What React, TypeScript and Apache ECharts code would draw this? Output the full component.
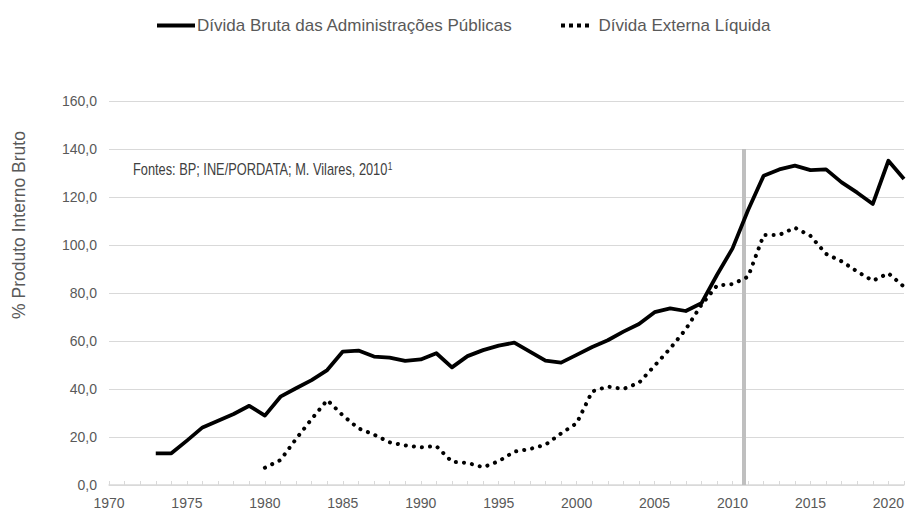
import React, { useEffect, useRef } from 'react';
import * as echarts from 'echarts';

const grossDebtName = 'Dívida Bruta das Administrações Públicas';
const extDebtName = 'Dívida Externa Líquida';

const grossDebtYears = [
  1973, 1974, 1975, 1976, 1977, 1978, 1979, 1980, 1981, 1982, 1983, 1984, 1985, 1986, 1987, 1988,
  1989, 1990, 1991, 1992, 1993, 1994, 1995, 1996, 1997, 1998, 1999, 2000, 2001, 2002, 2003, 2004,
  2005, 2006, 2007, 2008, 2009, 2010, 2011, 2012, 2013, 2014, 2015, 2016, 2017, 2018, 2019, 2020, 2021,
];
const grossDebt = [
  13.2, 13.2, 18.5, 24.0, 26.8, 29.6, 33.0, 28.9, 36.8, 40.3, 43.7, 47.9, 55.6, 56.0, 53.5, 53.1,
  51.7, 52.3, 54.9, 49.0, 53.7, 56.2, 58.1, 59.3, 55.6, 51.8, 51.0, 54.2, 57.5, 60.3, 63.9, 67.1,
  72.0, 73.6, 72.5, 75.7, 87.5, 98.6, 114.6, 128.9, 131.5, 133.1, 131.2, 131.5, 126.1, 121.8, 117.1, 135.1, 127.5,
];

const extDebtYears = [
  1980, 1981, 1982, 1983, 1984, 1985, 1986, 1987, 1988, 1989, 1990, 1991, 1992, 1993, 1994, 1995,
  1996, 1997, 1998, 1999, 2000, 2001, 2002, 2003, 2004, 2005, 2006, 2007, 2008, 2009, 2010, 2011,
  2012, 2013, 2014, 2015, 2016, 2017, 2018, 2019, 2020, 2021,
];
const extDebt = [
  7.2, 10.4, 19.2, 27.5, 35.4, 29.0, 23.6, 21.0, 17.8, 16.5, 15.7, 16.2, 9.7, 9.2, 7.4, 9.9,
  13.9, 15.0, 16.8, 21.5, 25.7, 39.0, 41.0, 40.0, 42.6, 49.7, 56.9, 64.9, 75.0, 83.1, 83.7, 86.8,
  104.2, 104.2, 107.2, 103.8, 96.3, 93.2, 88.9, 85.1, 88.2, 82.6,
];

const tickYears = [
  1970, 1971, 1972, 1973, 1974, 1975, 1976, 1977, 1978, 1979, 1980, 1981, 1982, 1983, 1984, 1985,
  1986, 1987, 1988, 1989, 1990, 1991, 1992, 1993, 1994, 1995, 1996, 1997, 1998, 1999, 2000, 2001,
  2002, 2003, 2004, 2005, 2006, 2007, 2008, 2009, 2010, 2011, 2012, 2013, 2014, 2015, 2016, 2017,
  2018, 2019, 2020, 2021,
];
const labelYears = [1970, 1975, 1980, 1985, 1990, 1995, 2000, 2005, 2010, 2015, 2020];

const markerYear = 2010.75;
const markerTop = 140;

const sourceText = 'Fontes: BP; INE/PORDATA; M. Vilares, 2010';
const sourceSup = '1';
const yAxisName = '% Produto Interno Bruto';

const FONT = "'Liberation Sans', Arial, sans-serif";

export default function App() {
  const ref = useRef<HTMLDivElement>(null);

  useEffect(() => {
    if (!ref.current) return;
    const chart = echarts.init(ref.current, null, { renderer: 'svg' });

    const grossData = grossDebtYears.map((y, i) => [y, grossDebt[i]]);
    const extData = extDebtYears.map((y, i) => [y, extDebt[i]]);

    chart.setOption({
      animation: false,
      grid: { left: 109, right: 3, top: 101, bottom: 26, containLabel: false },
      legend: [
        {
          data: [grossDebtName],
          left: 157,
          top: 17,
          padding: 0,
          icon: 'rect',
          itemWidth: 38,
          itemHeight: 4,
          textStyle: { fontFamily: FONT, fontSize: 17, color: '#595959', padding: [0, 0, 0, -3] },
        },
        {
          data: [extDebtName],
          left: 561,
          top: 17,
          padding: 0,
          icon: 'path://M0,0h4v4h-4z M8,0h4v4h-4z M16,0h4v4h-4z M24,0h4v4h-4z',
          itemWidth: 31,
          itemHeight: 4,
          textStyle: { fontFamily: FONT, fontSize: 17, color: '#595959', padding: [0, 0, 0, 3] },
        },
      ],
      xAxis: {
        type: 'value',
        min: 1970,
        max: 2021,
        interval: 5,
        axisLine: { show: true, lineStyle: { color: '#d9d9d9', width: 1.5 } },
        axisTick: {
          show: true,
          customValues: tickYears,
          inside: true,
          length: 4,
          lineStyle: { color: '#d9d9d9' },
        },
        axisLabel: {
          customValues: labelYears,
          fontFamily: FONT,
          fontSize: 14,
          color: '#595959',
          margin: 11,
          formatter: (v: number) => String(v),
        },
        splitLine: { show: false },
      },
      yAxis: {
        type: 'value',
        min: 0,
        max: 160,
        interval: 20,
        axisLine: { show: false },
        axisTick: { show: false },
        axisLabel: {
          fontFamily: FONT,
          fontSize: 14,
          color: '#595959',
          margin: 12,
          formatter: (v: number) => v.toFixed(1).replace('.', ','),
        },
        splitLine: { lineStyle: { color: '#d9d9d9', width: 1 } },
      },
      series: [
        {
          name: grossDebtName,
          type: 'line',
          data: grossData,
          showSymbol: false,
          symbol: 'none',
          color: '#000000',
          lineStyle: { color: '#000000', width: 3.8, join: 'round' },
          z: 3,
          markLine: {
            silent: true,
            symbol: 'none',
            label: { show: false },
            lineStyle: { color: '#bfbfbf', width: 4, type: 'solid' },
            data: [[{ coord: [markerYear, 0] }, { coord: [markerYear, markerTop] }]],
            z: 1,
          },
        },
        {
          name: extDebtName,
          type: 'line',
          data: extData,
          showSymbol: false,
          symbol: 'none',
          color: '#000000',
          lineStyle: { color: '#000000', width: 4, type: [0.1, 8], cap: 'round', join: 'round' },
          z: 4,
        },
      ],
      graphic: [
        {
          type: 'text',
          x: 19,
          y: 225,
          rotation: Math.PI / 2,
          style: {
            text: yAxisName,
            fontFamily: FONT,
            fontSize: 17.5,
            fill: '#595959',
            align: 'center',
            verticalAlign: 'middle',
          },
        },
        {
          type: 'text',
          x: 133,
          y: 169,
          scaleX: 0.8,
          style: {
            text: `{a|${sourceText}}{s|${sourceSup}}`,
            verticalAlign: 'middle',
            rich: {
              a: {
                fontFamily: FONT,
                fontSize: 16,
                fill: '#404040',
                color: '#404040',
              },
              s: {
                fontFamily: FONT,
                fontSize: 10.5,
                fill: '#404040',
                color: '#404040',
                verticalAlign: 'top',
              },
            },
          },
        },
      ],
    });

    return () => chart.dispose();
  }, []);

  return (
    <div
      ref={ref}
      style={{ position: 'fixed', left: 0, top: 0, width: 907, height: 511, background: '#ffffff' }}
    />
  );
}
